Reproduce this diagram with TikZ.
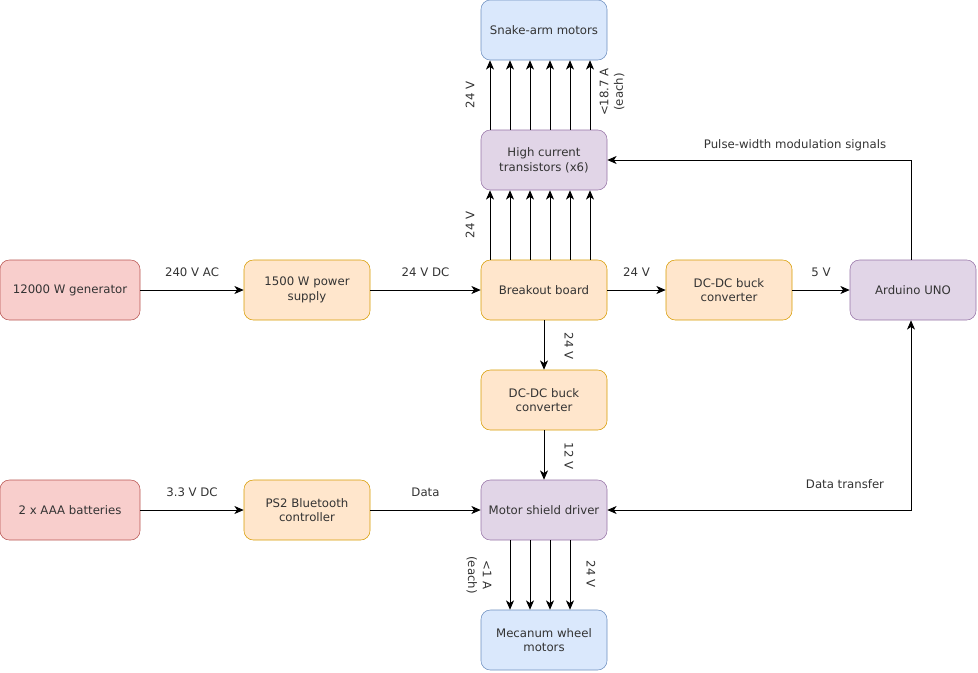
\documentclass[tikz,border=0pt]{standalone}
\usepackage{fontspec}
\setmainfont{DejaVu Sans}
\usepackage{tikz}
\usetikzlibrary{arrows.meta,positioning,calc}
\definecolor{redfill}{HTML}{F8CECC}
\definecolor{redline}{HTML}{B85450}
\definecolor{orfill}{HTML}{FFE6CC}
\definecolor{orline}{HTML}{D79B00}
\definecolor{pufill}{HTML}{E1D5E7}
\definecolor{puline}{HTML}{9673A6}
\definecolor{blfill}{HTML}{DAE8FC}
\definecolor{blline}{HTML}{6C8EBF}
\definecolor{txtgray}{HTML}{333333}
\tikzset{
  blk/.style={rounded corners=7pt, minimum width=94.5pt, minimum height=45pt,
    align=center, text=txtgray, font=\fontsize{8.8}{11}\selectfont, inner sep=2pt},
  srcblk/.style={blk, fill=redfill, draw=redline, minimum width=105pt},
  pwrblk/.style={blk, fill=orfill, draw=orline},
  ctlblk/.style={blk, fill=pufill, draw=puline},
  motblk/.style={blk, fill=blfill, draw=blline},
  arr/.style={-{Stealth[length=7pt, width=6pt, inset=2pt]}, black, line width=0.75pt},
  arrb/.style={{Stealth[length=7pt, width=6pt, inset=2pt]}-{Stealth[length=7pt, width=6pt, inset=2pt]}, black, line width=0.75pt},
  lbl/.style={font=\fontsize{8.8}{11}\selectfont, text=txtgray, inner sep=1pt},
}

\begin{document}
\begin{tikzpicture}[x=0.75pt,y=-0.75pt]
  \useasboundingbox (0,0) rectangle (978,672);
  % power column
  \node[motblk] (snake) at (544,30) {Snake-arm motors};
  \node[ctlblk] (transistors) at (544,160) {High current\\transistors (x6)};
  \node[pwrblk] (breakout) at (544,290) {Breakout board};
  \node[pwrblk] (buckmid) at (544,400) {DC-DC buck\\converter};
  \node[ctlblk] (shield) at (544,510) {Motor shield driver};
  \node[motblk] (mecanum) at (544,640) {Mecanum wheel\\motors};
  % left side
  \node[srcblk] (generator) at (70,290) {12000 W generator};
  \node[pwrblk] (psu) at (307,290) {1500 W power\\supply};
  \node[srcblk] (batteries) at (70,510) {2 x AAA batteries};
  \node[pwrblk] (ps2) at (307,510) {PS2 Bluetooth\\controller};
  % right side
  \node[pwrblk] (buckright) at (729,290) {DC-DC buck\\converter};
  \node[ctlblk] (arduino) at (913,290) {Arduino UNO};

  % links
  \draw[arr] (generator) -- node[lbl, above=9pt] {240 V AC} (psu);
  \draw[arr] (psu) -- node[lbl, above=9pt] {24 V DC} (breakout);
  \draw[arr] (breakout) -- node[lbl, above=9pt] {24 V} (buckright);
  \draw[arr] (buckright) -- node[lbl, above=9pt] {5 V} (arduino);
  \draw[arr] (batteries) -- node[lbl, above=9pt] {3.3 V DC} (ps2);
  \draw[arr] (ps2) -- node[lbl, above=9pt] {Data} (shield);
  \draw[arr] (breakout) -- (buckmid);
  \draw[arr] (buckmid) -- (shield);
  \draw[arr] ([xshift=-1.5pt]arduino.north) |- (transistors.east);
  \draw[arrb] (shield.east) -| ([xshift=-1.5pt]arduino.south);

  % parallel lines
  \foreach \dx in {-54,-34,-14,6,26,46} {
    \draw[arr] ([xshift=\dx*0.75pt]breakout.north) -- ([xshift=\dx*0.75pt]transistors.south);
    \draw[arr] ([xshift=\dx*0.75pt]transistors.north) -- ([xshift=\dx*0.75pt]snake.south);
  }
  \foreach \dx in {-34,-14,6,26}
    \draw[arr] ([xshift=\dx*0.75pt]shield.south) -- ([xshift=\dx*0.75pt]mecanum.north);

  % labels
  \node[lbl, rotate=90] (vsnake) at (470,95) {24 V};
  \node[lbl, rotate=90, align=center] (asnake) at (612,92) {<18.7 A\\(each)};
  \node[lbl, rotate=90] (vtrans) at (470,225) {24 V};
  \node[lbl, rotate=-90] (vbuck) at (569,346) {24 V};
  \node[lbl, rotate=-90] (vshield) at (569,456) {12 V};
  \node[lbl, rotate=-90, align=center] (awheel) at (479,575) {<1 A\\(each)};
  \node[lbl, rotate=-90] (vwheel) at (591,574) {24 V};
  \node[lbl] (pwm) at (795,145) {Pulse-width modulation signals};
  \node[lbl] (xfer) at (845,484) {Data transfer};
\end{tikzpicture}
\end{document}
